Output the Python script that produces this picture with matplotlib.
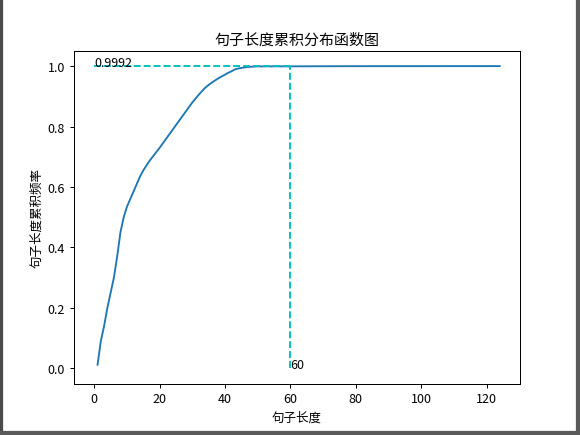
import matplotlib
matplotlib.use('Agg')
import matplotlib.pyplot as plt
from matplotlib.patches import Rectangle

plt.rcParams['font.family'] = ['Noto Sans CJK SC', 'DejaVu Sans']
plt.rcParams['axes.unicode_minus'] = False

# sentence length vs cumulative frequency
lengths = list(range(1, 51)) + [55, 60, 70, 80, 100, 124]
cum_freq = [0.012, 0.09, 0.14, 0.20, 0.25, 0.30, 0.37, 0.45, 0.50, 0.535,
            0.56, 0.585, 0.61, 0.635, 0.655, 0.672, 0.688, 0.702, 0.716, 0.73,
            0.745, 0.76, 0.775, 0.79, 0.805, 0.82, 0.835, 0.85, 0.865, 0.88,
            0.893, 0.906, 0.918, 0.929, 0.938, 0.946, 0.953, 0.96, 0.966, 0.972,
            0.978, 0.983, 0.989, 0.992, 0.994, 0.996, 0.997, 0.998, 0.9985, 0.999,
            0.9992, 0.9992, 0.9996, 0.9998, 0.9999, 1.0]
quantile_len = 60
quantile_val = 0.9992

W, H = 580, 436
fig = plt.figure(figsize=(W / 90, H / 90), dpi=90)
ax = fig.add_axes([74 / W, 1 - 384.5 / H, (520 - 74) / W, (384.5 - 52) / H])

ax.plot(lengths, cum_freq)
ax.hlines(quantile_val, 0, quantile_len, colors='c', linestyles='--')
ax.vlines(quantile_len, 0, quantile_val, colors='c', linestyles='--')
ax.text(0, quantile_val, str(quantile_val))
ax.text(quantile_len, 0, str(quantile_len))

ax.set_title('句子长度累积分布函数图')
ax.set_xlabel('句子长度')
ax.set_ylabel('句子长度累积频率')

# window frame seen in the screenshot
fig.patches.append(Rectangle((0, 0), 2 / W, 1, transform=fig.transFigure,
                             color='#4a4a4a', zorder=10))
fig.patches.append(Rectangle((1 - 4 / W, 0), 4 / W, 1, transform=fig.transFigure,
                             color='#5a5a5a', zorder=10))
fig.patches.append(Rectangle((0, 0), 1, 4 / H, transform=fig.transFigure,
                             color='#5a5a5a', zorder=10))

fig.savefig('out.png', dpi=90)
